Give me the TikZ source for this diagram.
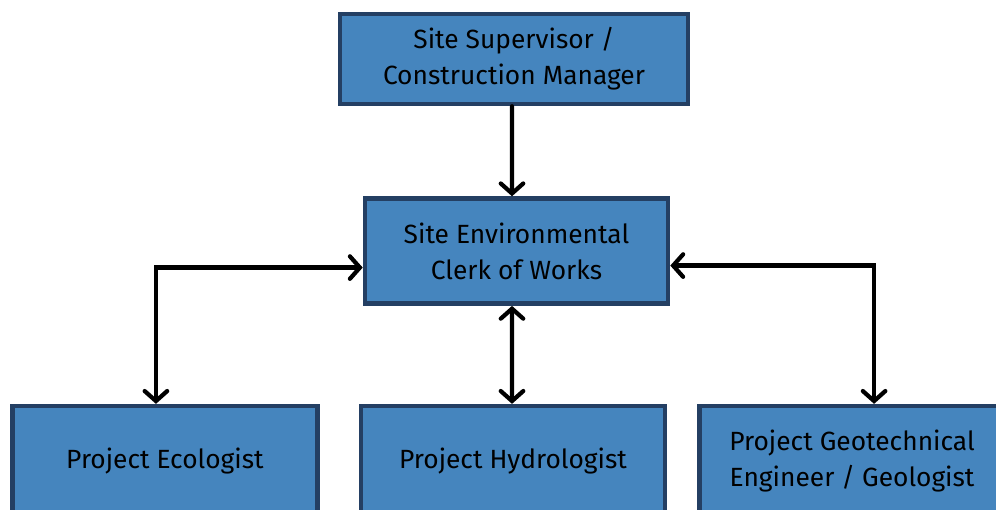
\documentclass[tikz,border=0pt]{standalone}
\usepackage{fontspec}
\setmainfont{Fira Sans}
\usetikzlibrary{positioning,arrows.meta}
\definecolor{DEFINE_BOX_COLOR}{HTML}{4585BE}
\definecolor{DEFINE_EDGE_COLOR}{HTML}{243F63}
\tikzstyle{BOX_COLOR}=[fill=DEFINE_BOX_COLOR, draw=DEFINE_EDGE_COLOR]
\tikzstyle{role} = [rectangle, BOX_COLOR, line width=2.6pt, align=center, font=\fontsize{15}{20.5}\selectfont]
\tikzstyle{lead_role} = [role, minimum width=6.96cm, minimum height=1.8cm]
\tikzstyle{clerk_role}= [role, minimum width=6.06cm, minimum height=2.1cm]
\tikzstyle{spec_role} = [role, minimum width=6.1cm, minimum height=2.2cm]
\tikzstyle{link} = [line width=2.4pt, line cap=round, line join=miter]
\tikzset{barb/.tip={Straight Barb[length=0.2cm, width=0.45cm, line cap=round]}}

\begin{document}
\begin{tikzpicture}[node distance = 1.8cm and 0.7cm]
      \useasboundingbox (0,0) rectangle (19.92,-10.18);

      %%%%%%%%%%%%%%%%%%%%%%%%%%%%%%%%%%%%%%%%%%%%%%%%%
      % ROLES
      %%%%%%%%%%%%%%%%%%%%%%%%%%%%%%%%%%%%%%%%%%%%%%%%%
      \node[lead_role] (SUP) at (10.28,-1.18) {Site Supervisor /\\Construction Manager};
      \node[clerk_role, below=1.8cm of SUP, xshift=0.05cm] (ECW) {Site Environmental\\Clerk of Works};
      \node[spec_role, below=1.96cm of ECW, xshift=-0.07cm, minimum width=6.08cm] (HYD) {Project Hydrologist};
      \node[spec_role, left=0.78cm of HYD] (ECO) {Project Ecologist};
      \node[spec_role, right=0.6cm of HYD] (GEO) {Project Geotechnical\\Engineer / Geologist};

      %%%%%%%%%%%%%%%%%%%%%%%%%%%%%%%%%%%%%%%%%%%%%%%%%
      % ARROWS
      %%%%%%%%%%%%%%%%%%%%%%%%%%%%%%%%%%%%%%%%%%%%%%%%%
      \draw[link, -barb] ([xshift=-0.04cm]SUP.south) -- ([xshift=-0.09cm]ECW.north);
      \draw[link, barb-barb] ([xshift=-0.09cm]ECW.south) -- ([xshift=-0.02cm]HYD.north);
      \draw[link, barb-barb] ([yshift=-0.33cm]ECW.west) -| ([xshift=-0.18cm]ECO.north);
      \draw[link, barb-barb] ([yshift=-0.29cm]ECW.east) -| ([xshift=0.44cm]GEO.north);

\end{tikzpicture}
\end{document}
